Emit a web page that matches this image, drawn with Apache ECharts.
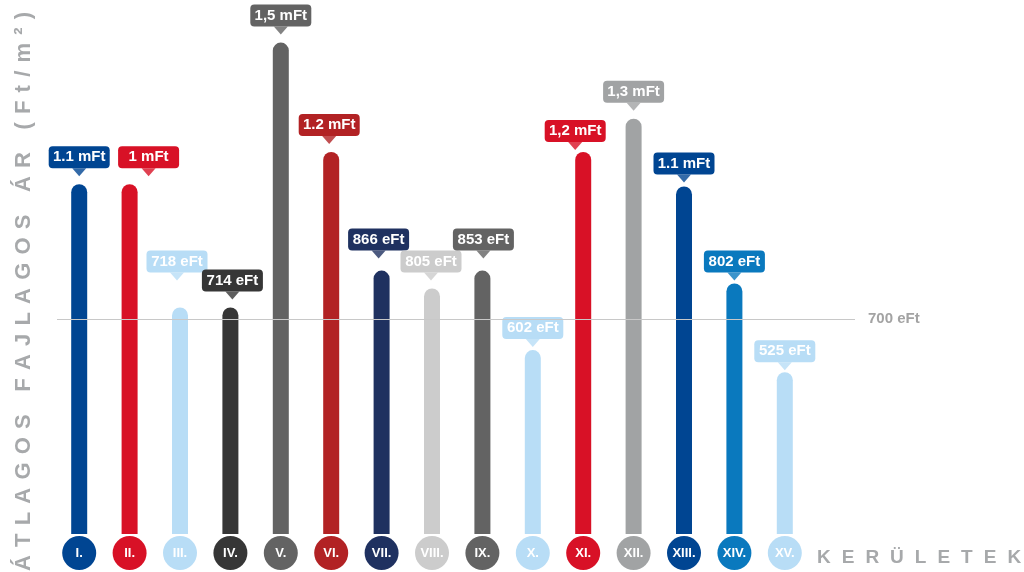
<!DOCTYPE html>
<html>
<head>
<meta charset="utf-8">
<title>Kerületek</title>
<script src="https://cdn.jsdelivr.net/npm/echarts@6/dist/echarts.min.js"></script>
<style>
html,body{margin:0;padding:0;background:#fff}
#main{width:1024px;height:572px}
</style>
</head>
<body>
<div id="main"></div>
<script>
// adatok
var categories = ['I.', 'II.', 'III.', 'IV.', 'V.', 'VI.', 'VII.', 'VIII.', 'IX.', 'X.', 'XI.', 'XII.', 'XIII.', 'XIV.', 'XV.'];
var values = [1135, 1135, 735, 735, 1595, 1240, 855, 797, 855, 597, 1240, 1348, 1128, 813, 525];
var valueLabels = ['1.1 mFt', '1 mFt', '718 eFt', '714 eFt', '1,5 mFt', '1.2 mFt', '866 eFt', '805 eFt', '853 eFt', '602 eFt', '1,2 mFt', '1,3 mFt', '1.1 mFt', '802 eFt', '525 eFt'];
var barColors = ['#004592', '#d81126', '#b8ddf6', '#363636', '#636363', '#b22224', '#1f3160', '#cccccc', '#636363', '#b8ddf6', '#d81126', '#a1a3a4', '#004592', '#0a79be', '#b8ddf6'];
var refValue = 700;
var refLabel = '700 eFt';
var yTitle = 'ÁTLAGOS FAJLAGOS ÁR (Ft/m²)';
var xTitle = 'KERÜLETEK';

// a buborekok eltolasa (px), az eredetin nem mind all pontosan a rud felett
var bubbleDx = [0, 19, -3, 2, 0, -2, -3, -1, 1, 0, -8, 0, 0, 0, 0];
var bubbleDy = [0, 0, -19, 0, 0, 0, -4, 0, -4, 5, 6, 0, 4, 5, 6];

var font = '"Liberation Sans", Arial, sans-serif';
var gray = '#a7a9ab';

// ritkitott betuk, minden betu kulon text elem
function spacedText(str, size, spacing) {
    var ctx = document.createElement('canvas').getContext('2d');
    ctx.font = 'bold ' + size + 'px ' + font;
    var x = 0, out = [];
    for (var i = 0; i < str.length; i++) {
        out.push({
            type: 'text', x: x, y: 0, silent: true,
            style: {
                text: str[i], fill: gray, fontSize: size, fontWeight: 'bold',
                fontFamily: font, align: 'left', verticalAlign: 'middle'
            }
        });
        x += ctx.measureText(str[i]).width + spacing;
    }
    return out;
}

// kor alaku kategoria cimkek
var rich = {};
barColors.forEach(function (c, i) {
    rich['c' + i] = {
        width: 34, height: 34, lineHeight: 34, borderRadius: 17,
        backgroundColor: c, borderColor: '#fff', borderWidth: 2,
        color: '#fff', fontSize: 13, fontWeight: 'bold', fontFamily: font, align: 'center'
    };
});

var barData = values.map(function (v, i) {
    return {
        value: v,
        itemStyle: { color: barColors[i] },
        label: { backgroundColor: barColors[i], offset: [bubbleDx[i], bubbleDy[i]] }
    };
});
var arrowData = values.map(function (v, i) {
    return { value: v, itemStyle: { color: barColors[i] }, symbolOffset: [bubbleDx[i], -12 + bubbleDy[i]] };
});

var myChart = echarts.init(document.getElementById('main'));

var option = {
    animation: false,
    grid: [
        { left: 54, right: 214, top: 41, bottom: 37 },
        { left: 57, right: 169, top: 41, bottom: 37 }
    ],
    xAxis: [
        {
            type: 'category', data: categories, gridIndex: 0,
            axisLine: { show: false }, axisTick: { show: false },
            axisLabel: {
                interval: 0, margin: 2,
                formatter: function (val, idx) { return '{c' + idx + '|' + val + '}'; },
                rich: rich
            }
        },
        { type: 'value', gridIndex: 1, min: 0, max: 1, show: false }
    ],
    yAxis: [
        { type: 'value', gridIndex: 0, min: 0, max: 1600, show: false, splitLine: { show: false } },
        { type: 'value', gridIndex: 1, min: 0, max: 1600, show: false, splitLine: { show: false } }
    ],
    series: [
        {
            type: 'bar', data: barData, barWidth: 16,
            itemStyle: { borderRadius: [8, 8, 0, 0] },
            label: {
                show: true, position: 'top', distance: 16,
                formatter: function (p) { return valueLabels[p.dataIndex]; },
                color: '#fff', fontSize: 15, fontWeight: 'bold', fontFamily: font,
                width: 53, align: 'center',
                padding: [3, 4, 3, 4], borderRadius: 4, lineHeight: 16
            }
        },
        {
            // a cimke alatti kis haromszog
            type: 'scatter', data: arrowData, silent: true,
            symbol: 'triangle', symbolRotate: 180, symbolSize: [14, 8]
        },
        {
            type: 'line', xAxisIndex: 1, yAxisIndex: 1, data: [], z: 5,
            markLine: {
                silent: true, symbol: ['none', 'none'],
                lineStyle: { color: '#c8c8c8', type: 'solid', width: 1 },
                label: {
                    position: 'end', distance: 13, formatter: refLabel,
                    color: '#a3a3a3', fontSize: 15, fontWeight: 'bold', fontFamily: font
                },
                data: [{ yAxis: refValue }]
            }
        }
    ],
    graphic: [
        { type: 'group', x: 24, y: 571, rotation: Math.PI / 2, children: spacedText(yTitle, 22, 8.2) },
        { type: 'group', x: 817, y: 558, children: spacedText(xTitle, 19, 11) }
    ]
};

myChart.setOption(option);
window.onresize = myChart.resize;
</script>
</body>
</html>
